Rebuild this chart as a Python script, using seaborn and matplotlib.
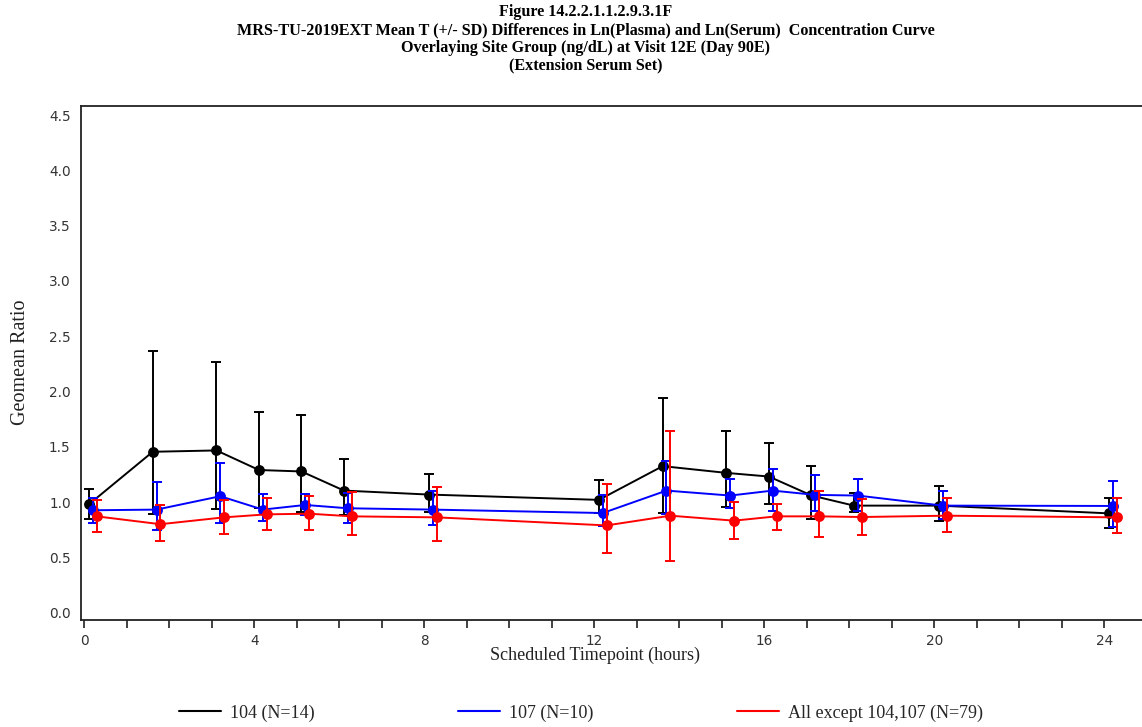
import numpy as np
import pandas as pd
import matplotlib
matplotlib.use("Agg")
import matplotlib.pyplot as plt
from matplotlib.lines import Line2D
from matplotlib.ticker import MultipleLocator, FormatStrFormatter
import seaborn as sns

# ---------------- data ----------------
times = [0, 1.5, 3, 4, 5, 6, 8, 12, 13.5, 15, 16, 17, 18, 20, 24]
groups = ["104 (N=14)", "107 (N=10)", "All except 104,107 (N=79)"]

mean_104 = [0.98, 1.455, 1.467, 1.29, 1.277, 1.104, 1.068, 1.02, 1.325, 1.264, 1.231, 1.06, 0.968, 0.968, 0.898]
upper_104 = [1.116, 2.362, 2.266, 1.818, 1.785, 1.388, 1.255, 1.198, 1.945, 1.643, 1.531, 1.322, 1.083, 1.146, 1.034]
lower_104 = [0.844, 0.892, 0.937, 0.944, 0.907, 0.886, 0.907, 0.901, 0.901, 0.956, 0.986, 0.847, 0.907, 0.829, 0.765]

mean_107 = [0.926, 0.932, 1.053, 0.932, 0.974, 0.944, 0.932, 0.901, 1.104, 1.059, 1.104, 1.065, 1.059, 0.968, 0.965]
upper_107 = [1.037, 1.18, 1.355, 1.071, 1.071, 1.08, 1.098, 1.068, 1.37, 1.21, 1.295, 1.243, 1.21, 1.104, 1.195]
lower_107 = [0.81, 0.747, 0.814, 0.826, 0.883, 0.814, 0.796, 0.78, 0.89, 0.944, 0.923, 0.923, 0.917, 0.85, 0.774]

mean_all = [0.871, 0.80, 0.862, 0.889, 0.895, 0.871, 0.862, 0.789, 0.877, 0.832, 0.871, 0.871, 0.865, 0.877, 0.862]
upper_all = [1.019, 0.974, 1.02, 1.034, 1.055, 1.089, 1.134, 1.164, 1.645, 1.001, 0.983, 1.104, 1.03, 1.034, 1.034]
lower_all = [0.732, 0.65, 0.714, 0.747, 0.747, 0.699, 0.65, 0.538, 0.463, 0.669, 0.747, 0.687, 0.701, 0.732, 0.717]

x_ticks = [0, 4, 8, 12, 16, 20, 24]

title_lines = [
    "Figure 14.2.2.1.1.2.9.3.1F",
    "MRS-TU-2019EXT Mean T (+/- SD) Differences in Ln(Plasma) and Ln(Serum)  Concentration Curve",
    "Overlaying Site Group (ng/dL) at Visit 12E (Day 90E)",
    "(Extension Serum Set)",
]

# ---------------- style ----------------
colors = {groups[0]: "#000000", groups[1]: "#0000FF", groups[2]: "#FF0000"}
dodge = {groups[0]: 0.11, groups[1]: 0.2, groups[2]: 0.29}

means = [mean_104, mean_107, mean_all]
uppers = [upper_104, upper_107, upper_all]
lowers = [lower_104, lower_107, lower_all]

rows = []
for g, m, u, l in zip(groups, means, uppers, lowers):
    for t, mv, uv, lv in zip(times, m, u, l):
        rows.append({"group": g, "time": t, "x": t + dodge[g], "mean": mv, "upper": uv, "lower": lv})
df = pd.DataFrame(rows)

sns.set_theme(style="white")
plt.rcParams["font.family"] = ["DejaVu Sans"]

fig = plt.figure(figsize=(11.42, 7.27), dpi=100)
ax_l, ax_b = 80.5 / 1142, 1 - 620.3 / 727
ax_w, ax_h = 1 - 80.5 / 1142, (620.3 - 106.3) / 727
ax = fig.add_axes([ax_l, ax_b, ax_w, ax_h])

for z, g in enumerate(groups):
    sub = df[df["group"] == g]
    c = colors[g]
    ax.errorbar(sub["x"], sub["mean"],
                yerr=[sub["mean"] - sub["lower"], sub["upper"] - sub["mean"]],
                fmt="none", ecolor=c, elinewidth=1.4, capsize=3.8, capthick=1.4,
                zorder=2 + z)
    sns.lineplot(data=sub, x="x", y="mean", color=c, marker="o", markersize=7.8,
                 markeredgewidth=0, linewidth=1.4, estimator=None, sort=True,
                 legend=False, ax=ax, zorder=2.5 + z)

ax.set_xlim(-0.09, 24.89)
ax.set_ylim(-0.069, 4.579)
ax.set_xticks(x_ticks)
ax.xaxis.set_minor_locator(MultipleLocator(1))
ax.yaxis.set_major_locator(MultipleLocator(0.5))
ax.yaxis.set_major_formatter(FormatStrFormatter("%.1f"))

for s in ["left", "bottom", "top"]:
    ax.spines[s].set_color("#222222")
    ax.spines[s].set_linewidth(1.3)
ax.spines["right"].set_visible(False)

ax.tick_params(axis="both", which="both", direction="out", color="#222222", width=1.2,
               labelsize=9.8, labelcolor="#333333")
ax.tick_params(axis="y", length=5, pad=2)
ax.tick_params(axis="x", which="both", length=6, pad=4, bottom=True)
ax.grid(False)

serif = ["Liberation Serif", "DejaVu Serif"]
ax.set_xlabel("Scheduled Timepoint (hours)", family=serif, fontsize=13, color="#222222",
              va="center")
ax.xaxis.set_label_coords((595.5 - 80.5) / (1142 - 80.5), (620.3 - 655) / 514)
ax.set_ylabel("Geomean Ratio", family=serif, fontsize=14.5, color="#222222", va="center")
ax.yaxis.set_label_coords((21 - 80.5) / (1142 - 80.5), (620.3 - 362.5) / 514)

for i, line in enumerate(title_lines):
    fig.text(0.5127, 1 - (12.5 + 17.6 * i) / 727, line, ha="center", va="center",
             family=serif, fontweight="bold", fontsize=11.6, color="#000000")

leg_x = [178.5, 457.6, 736.6]
for g, lx in zip(groups, leg_x):
    h = Line2D([], [], color=colors[g], linewidth=1.5)
    fig.legend([h], [g], loc="center left", bbox_to_anchor=(lx / 1142, 14 / 727),
               frameon=False, borderpad=0, borderaxespad=0, handlelength=2.33,
               handletextpad=0.5, prop={"family": serif, "size": 13})

fig.savefig("out.png", dpi=100, facecolor="white")
